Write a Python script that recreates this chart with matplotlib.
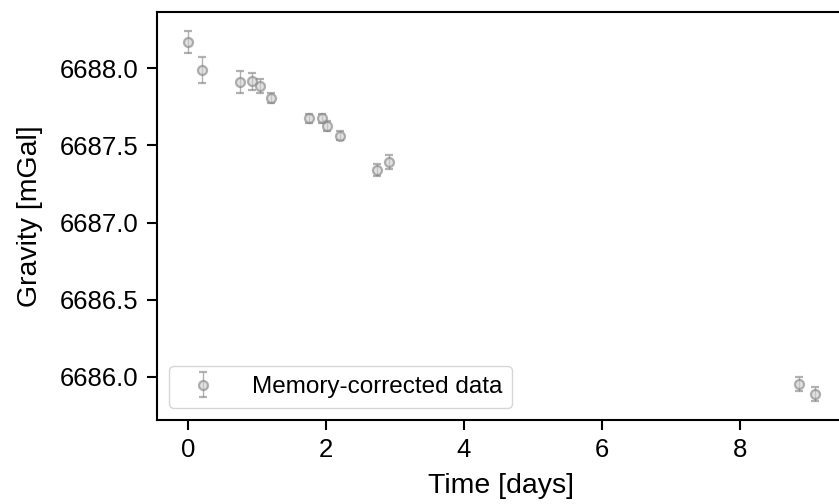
import numpy as np
import matplotlib
matplotlib.use('Agg')
import matplotlib.pyplot as plt

plt.rcParams['font.family'] = ['Liberation Sans', 'DejaVu Sans']

# memory-corrected gravity readings
time_days = [0.0, 0.20, 0.75, 0.93, 1.04, 1.21, 1.76, 1.94, 2.02, 2.20, 2.74, 2.91, 8.857, 9.089]
gravity = [6688.173, 6687.990, 6687.912, 6687.916, 6687.884, 6687.808, 6687.676,
           6687.676, 6687.627, 6687.564, 6687.340, 6687.390, 6685.951, 6685.886]
gravity_err = [0.071, 0.087, 0.069, 0.057, 0.045, 0.030, 0.030,
               0.030, 0.034, 0.028, 0.040, 0.045, 0.044, 0.047]

fig = plt.figure(figsize=(8.39, 5.04), dpi=100)
# right spine sits just past the figure edge, like the cropped original
ax = fig.add_axes([0.1868, 0.1667, 0.8216, 0.809])

ax.errorbar(time_days, gravity, yerr=gravity_err, fmt='o', color='gray', alpha=0.6,
            markerfacecolor='#d0d0d0', markeredgecolor='gray',
            markersize=6.5, markeredgewidth=1.6, elinewidth=1, capsize=3,
            label='Memory-corrected data')

ax.set_xlabel('Time [days]', fontsize=20.5, labelpad=8)
ax.set_ylabel('Gravity [mGal]', fontsize=20.5, labelpad=12)
ax.tick_params(labelsize=18.5, width=1.5, length=7, pad=6)
for s in ax.spines.values():
    s.set_linewidth(1.5)

ax.legend(loc='lower left', fontsize=17.5, handletextpad=1.0)

fig.savefig('out.png', dpi=100)
